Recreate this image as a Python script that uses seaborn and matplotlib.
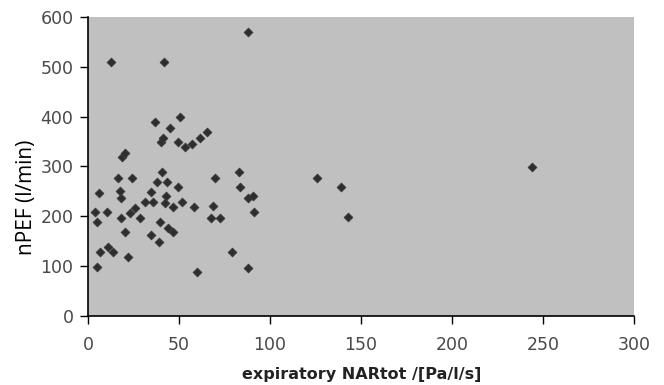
import matplotlib
matplotlib.use("Agg")
import matplotlib.pyplot as plt
import seaborn as sns
import pandas as pd

nar_tot = [12.6, 41.8, 88, 244, 126, 139, 143, 70, 83, 83.5, 88, 90.5, 91,
           68.9, 67.6, 72.5, 79, 88, 59.7, 58.4, 36.8, 50.6, 45, 40, 41.4,
           49.6, 53.3, 57, 61.5, 65.2, 18.5, 20.3, 16.7, 24, 40.5, 37.7, 43.6,
           49.6, 6.2, 17.6, 18, 34.5, 42.9, 31.3, 35.9, 42.3, 51.5, 46.9, 4,
           10.3, 4.8, 18.1, 23, 25.8, 28.6, 20.3, 39.6, 34.5, 39.2, 44.1, 46.9,
           6.6, 10.8, 13.9, 22.2, 4.8]
npef = [510, 510, 570, 298, 277, 258, 198, 277, 288, 258, 236, 240, 208,
        220, 197, 197, 129, 97, 88, 219, 389, 399, 378, 350, 357,
        350, 340, 345, 357, 369, 320, 328, 277, 277, 288, 269, 269,
        258, 246, 250, 236, 248, 240, 228, 228, 226, 228, 219, 208,
        208, 189, 197, 207, 217, 197, 169, 189, 163, 149, 176, 169,
        129, 139, 129, 119, 98]

x_ticks = [0, 50, 100, 150, 200, 250, 300]
y_ticks = [0, 100, 200, 300, 400, 500, 600]

df = pd.DataFrame({"x": nar_tot, "y": npef})

sns.set_style("white")
fig = plt.figure(figsize=(6.64, 3.85), dpi=100)
ax = fig.add_axes([88/664, 69/385, 546/664, 299/385])
ax.set_facecolor("#c0c0c0")

sns.scatterplot(data=df, x="x", y="y", ax=ax, marker="D", s=20,
                color="#2e2e2e", edgecolor="#3a3a3a", linewidth=0.6, legend=False)

ax.set_xlim(0, 300)
ax.set_ylim(0, 600)
ax.set_xticks(x_ticks)
ax.set_yticks(y_ticks)
ax.set_xticklabels([str(t) for t in x_ticks], fontsize=12.5, color="#4a4a4a",
                   family="DejaVu Sans")
ax.set_yticklabels([str(t) for t in y_ticks], fontsize=12.5, color="#4a4a4a",
                   family="DejaVu Sans")
ax.tick_params(axis="both", direction="out", length=5.5, width=1, color="black",
               left=True, bottom=True)
ax.tick_params(axis="y", pad=5)
ax.tick_params(axis="x", pad=9)

for s in ["top", "right"]:
    ax.spines[s].set_visible(False)
for s in ["left", "bottom"]:
    ax.spines[s].set_color("black")
    ax.spines[s].set_linewidth(1.2)

ax.set_xlabel("expiratory NARtot /[Pa/l/s]", fontsize=11.5, fontweight="bold",
              family="DejaVu Sans", color="#222222")
ax.xaxis.set_label_coords(274/546, -51/299)
ax.set_ylabel("nPEF (l/min)", fontsize=15, family="Open Sans", color="black")
ax.yaxis.set_label_coords(-51/546, 119/299)

fig.savefig("out.png", dpi=100)
